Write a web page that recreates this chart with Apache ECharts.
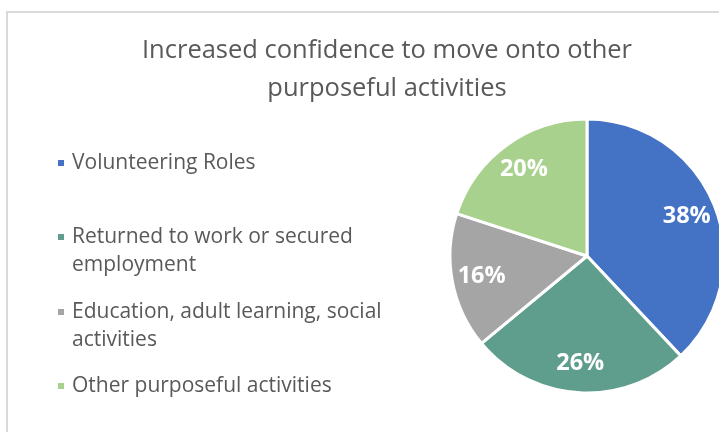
<!DOCTYPE html>
<html>
<head>
<meta charset="utf-8">
<script src="https://cdn.jsdelivr.net/npm/echarts@6/dist/echarts.min.js"></script>
<style>
html,body{margin:0;padding:0;background:#fff;}
#chart{width:719px;height:432px;}
</style>
</head>
<body>
<div id="chart"></div>
<script>
const titleText = 'Increased confidence to move onto other\npurposeful activities';
const categories = ['Volunteering Roles', 'Returned to work or secured employment', 'Education, adult learning, social activities', 'Other purposeful activities'];
const legendLines = ['Volunteering Roles', 'Returned to work or secured\nemployment', 'Education, adult learning, social\nactivities', 'Other purposeful activities'];
const values = [38, 26, 16, 20];
const colors = ['#4472C4', '#5F9E8C', '#A5A5A5', '#A9D18E'];

const FONT = '"Open Sans", Lato, sans-serif';
const LH = 28;
const iconCenters = [163, 237, 312, 386];
const CX = 587, CY = 256, R = 137;
const LABEL_SCALE = 1.5;

const chart = echarts.init(document.getElementById('chart'), null, {renderer: 'canvas'});

const legends = categories.map((name, i) => {
  const lines = legendLines[i].split('\n');
  const nLines = lines.length;
  // blank leading lines keep the first text line level with the marker
  const txt = (nLines > 1 ? '\n'.repeat(nLines - 1) : '') + legendLines[i];
  return {
    orient: 'vertical',
    left: 56,
    top: iconCenters[i] - LH / 2 - (nLines - 1) * LH,
    padding: 0,
    itemWidth: 8,
    itemHeight: 8,
    icon: 'rect',
    selectedMode: false,
    data: [name],
    formatter: () => txt,
    textStyle: {
      color: '#595959',
      fontFamily: FONT,
      fontSize: 21,
      lineHeight: LH,
      padding: [0, 0, 0, 2]
    }
  };
});

const option = {
  backgroundColor: '#ffffff',
  animation: false,
  color: colors,
  title: {
    text: titleText,
    left: 382,
    top: 27,
    textAlign: 'center',
    textStyle: {
      color: '#595959',
      fontFamily: FONT,
      fontSize: 25.5,
      fontWeight: 'normal',
      lineHeight: 38
    }
  },
  graphic: [{
    type: 'rect',
    shape: {x: 7, y: 12, width: 800, height: 500},
    style: {fill: 'none', stroke: '#d9d9d9', lineWidth: 2},
    silent: true,
    z: -1
  }],
  legend: legends,
  series: [{
    type: 'pie',
    center: [CX, CY],
    radius: R,
    startAngle: 90,
    clockwise: true,
    silent: true,
    data: categories.map((n, i) => ({name: n, value: values[i]})),
    itemStyle: {borderColor: '#ffffff', borderWidth: 3},
    label: {
      show: true,
      position: 'inside',
      formatter: '{d}%',
      color: '#ffffff',
      fontFamily: FONT,
      fontSize: 23.5,
      fontWeight: 'bold'
    },
    labelLine: {show: false},
    labelLayout: function (p) {
      const lx = p.labelRect.x + p.labelRect.width / 2;
      const ly = p.labelRect.y + p.labelRect.height / 2;
      return {
        x: CX + (lx - CX) * LABEL_SCALE,
        y: CY + (ly - CY) * LABEL_SCALE
      };
    }
  }]
};
chart.setOption(option);
</script>
</body>
</html>
